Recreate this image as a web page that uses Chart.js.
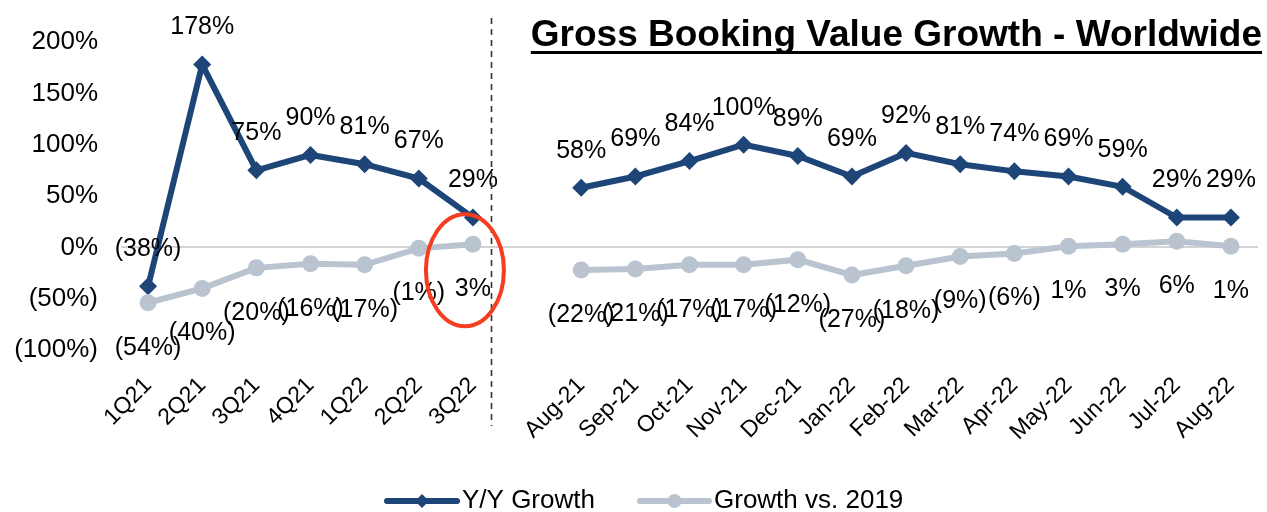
<!DOCTYPE html>
<html>
<head>
<meta charset="utf-8">
<title>Gross Booking Value Growth - Worldwide</title>
<script src="https://cdn.jsdelivr.net/npm/chart.js@4.4.1/dist/chart.umd.min.js"></script>
<style>
  html, body { margin: 0; padding: 0; background: #fff; overflow: hidden; }
  #wrap { width: 1267px; height: 512px; position: relative; }
</style>
</head>
<body>
<div id="wrap"><canvas id="gbvChart"></canvas></div>
<script>
// quarterly block, then a blank slot, then the monthly block
const quarters = ['1Q21', '2Q21', '3Q21', '4Q21', '1Q22', '2Q22', '3Q22'];
const months = ['Aug-21', 'Sep-21', 'Oct-21', 'Nov-21', 'Dec-21', 'Jan-22', 'Feb-22',
                'Mar-22', 'Apr-22', 'May-22', 'Jun-22', 'Jul-22', 'Aug-22'];

const yoyQuarterly = [-38, 178, 75, 90, 81, 67, 29];
const yoyMonthly = [58, 69, 84, 100, 89, 69, 92, 81, 74, 69, 59, 29, 29];
const vs2019Quarterly = [-54, -40, -20, -16, -17, -1, 3];
const vs2019Monthly = [-22, -21, -17, -17, -12, -27, -18, -9, -6, 1, 3, 6, 1];

const yTicks = [-100, -50, 0, 50, 100, 150, 200];

const navy = '#1d4577';
const grey = '#bac3d0';
const FONT = '"Liberation Sans", Arial, Helvetica, sans-serif';

const labels = [...quarters, '', ...months];
const yoyData = [...yoyQuarterly, null, ...yoyMonthly];
const vs2019Data = [...vs2019Quarterly, null, ...vs2019Monthly];

function fmtPct(v) {
    return v < 0 ? '(' + Math.abs(v) + '%)' : v + '%';
}

// data labels: Y/Y above the point, vs. 2019 below it
const valueLabels = {
    id: 'valueLabels',
    afterDatasetsDraw(chart) {
        const ctx = chart.ctx;
        ctx.save();
        ctx.font = '25px ' + FONT;
        ctx.fillStyle = '#000';
        ctx.textAlign = 'center';
        ctx.textBaseline = 'middle';
        chart.data.datasets.forEach(function(ds, i) {
            const meta = chart.getDatasetMeta(i);
            const dy = i === 0 ? -37 : 45;
            meta.data.forEach(function(pt, j) {
                const v = ds.data[j];
                if (v === null || v === undefined) return;
                ctx.fillText(fmtPct(v), pt.x, pt.y + dy);
            });
        });
        ctx.restore();
    }
};

// dashed divider between the quarterly and monthly blocks, red highlight, title, legend
const decorations = {
    id: 'decorations',
    afterDraw(chart) {
        const ctx = chart.ctx;
        const x = chart.scales.x;

        // divider
        const dx = Math.round(x.getPixelForValue(6.33)) + 0.5;
        ctx.save();
        ctx.strokeStyle = '#333';
        ctx.lineWidth = 1.6;
        ctx.setLineDash([6, 5]);
        ctx.beginPath();
        ctx.moveTo(dx, 18);
        ctx.lineTo(dx, 426);
        ctx.stroke();
        ctx.restore();

        // red ellipse around the 3Q22 vs. 2019 point
        const p = chart.getDatasetMeta(1).data[6];
        ctx.save();
        ctx.strokeStyle = '#f53d1f';
        ctx.lineWidth = 4;
        ctx.beginPath();
        ctx.ellipse(p.x - 8, p.y + 26, 39, 56, 0, 0, Math.PI * 2);
        ctx.stroke();
        ctx.restore();

        // underlined title
        const title = 'Gross Booking Value Growth - Worldwide';
        ctx.save();
        ctx.font = 'bold 37px ' + FONT;
        ctx.fillStyle = '#000';
        ctx.textAlign = 'right';
        ctx.textBaseline = 'alphabetic';
        const tw = ctx.measureText(title).width;
        ctx.fillText(title, 1262, 46);
        ctx.fillRect(1262 - tw, 51, tw, 3);
        ctx.restore();

        // legend: line with marker, then text
        const items = [
            { text: 'Y/Y Growth', color: navy, style: 'rectRot', radius: 7, x0: 387, x1: 457 },
            { text: 'Growth vs. 2019', color: grey, style: 'circle', radius: 7, x0: 640, x1: 709 }
        ];
        const ly = 501;
        ctx.save();
        items.forEach(function(it) {
            ctx.strokeStyle = it.color;
            ctx.lineWidth = 6;
            ctx.lineCap = 'round';
            ctx.beginPath();
            ctx.moveTo(it.x0, ly);
            ctx.lineTo(it.x1, ly);
            ctx.stroke();
            ctx.fillStyle = it.color;
            const cx = (it.x0 + it.x1) / 2;
            ctx.beginPath();
            if (it.style === 'circle') {
                ctx.arc(cx, ly, it.radius, 0, Math.PI * 2);
            } else {
                ctx.moveTo(cx, ly - it.radius);
                ctx.lineTo(cx + it.radius, ly);
                ctx.lineTo(cx, ly + it.radius);
                ctx.lineTo(cx - it.radius, ly);
                ctx.closePath();
            }
            ctx.fill();
            ctx.fillStyle = '#000';
            ctx.font = '26px ' + FONT;
            ctx.textAlign = 'left';
            ctx.textBaseline = 'middle';
            ctx.fillText(it.text, it.x1 + 5, ly);
        });
        ctx.restore();
    }
};

window.onload = function() {
    const ctx = document.getElementById('gbvChart').getContext('2d');

    new Chart(ctx, {
        type: 'line',
        data: {
            labels: labels,
            datasets: [{
                label: 'Y/Y Growth',
                data: yoyData,
                borderColor: navy,
                backgroundColor: navy,
                borderWidth: 6,
                pointStyle: 'rectRot',
                pointRadius: 9,
                pointBorderWidth: 0,
                tension: 0,
                spanGaps: false,
                order: 1
            }, {
                label: 'Growth vs. 2019',
                data: vs2019Data,
                borderColor: grey,
                backgroundColor: grey,
                borderWidth: 6,
                pointStyle: 'circle',
                pointRadius: 8.5,
                pointBorderWidth: 0,
                tension: 0,
                spanGaps: false,
                order: 0
            }]
        },
        options: {
            responsive: true,
            maintainAspectRatio: false,
            animation: false,
            layout: { padding: { top: 42, right: -2, bottom: 0, left: 0 } },
            plugins: {
                legend: { display: false },
                title: { display: false },
                tooltip: { enabled: false }
            },
            scales: {
                x: {
                    offset: true,
                    grid: { display: false, drawTicks: false },
                    border: { display: false },
                    ticks: {
                        autoSkip: false,
                        minRotation: 45,
                        maxRotation: 45,
                        padding: 22,
                        color: '#000',
                        font: { size: 23, family: FONT }
                    },
                    afterFit: function(scale) {
                        scale.height = 162;
                        scale.paddingLeft = 0;
                        scale.paddingRight = 0;
                    }
                },
                y: {
                    min: -100,
                    max: 200,
                    afterBuildTicks: function(scale) {
                        scale.ticks = yTicks.map(function(v) { return { value: v }; });
                    },
                    grid: {
                        drawTicks: false,
                        color: function(c) { return c.tick && c.tick.value === 0 ? '#d3d3d3' : 'rgba(0,0,0,0)'; },
                        lineWidth: 2
                    },
                    border: { display: false },
                    ticks: {
                        padding: 23,
                        color: '#000',
                        font: { size: 26, family: FONT },
                        callback: function(v) { return fmtPct(v); }
                    },
                    afterFit: function(scale) { scale.width = 121; }
                }
            }
        },
        plugins: [valueLabels, decorations]
    });
};
</script>
</body>
</html>
